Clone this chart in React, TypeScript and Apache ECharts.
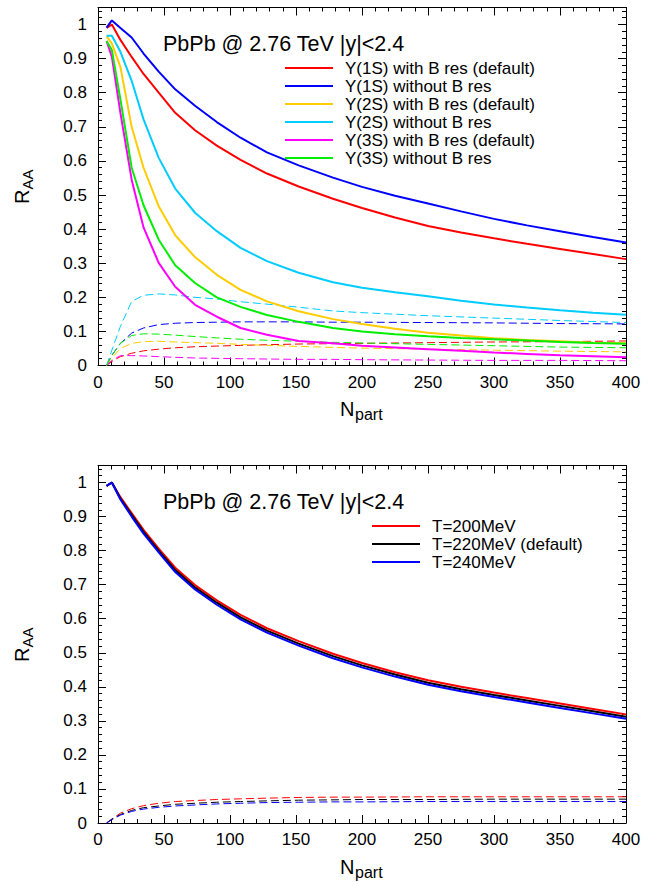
import React, { useEffect, useRef } from "react";
import * as echarts from "echarts";

const FONT = '"Liberation Sans", Arial, Helvetica, sans-serif';

// Npart sampling points of the curves
const N_SOLID = [6.5, 10.5, 17, 25.5, 34.5, 46, 58.5, 73.5, 90, 108, 128, 152, 178, 200, 225, 250, 275, 300, 325, 350, 375, 400];
const N_DASH = [6.5, 10.5, 17, 25.5, 34.5, 46, 58.5, 73.5, 90, 108, 128, 152, 178, 200, 250, 300, 350, 400];

const TITLE = "PbPb @ 2.76 TeV |y|<2.4";

// ---- top panel: solid curves ----
const Y1S_WITH_B = [0.99, 1.0, 0.955, 0.905, 0.855, 0.8, 0.741, 0.69, 0.645, 0.603, 0.563, 0.525, 0.489, 0.462, 0.434, 0.409, 0.39, 0.373, 0.357, 0.342, 0.327, 0.312];
const Y1S_NO_B = [0.991, 1.012, 0.99, 0.962, 0.915, 0.862, 0.81, 0.762, 0.714, 0.668, 0.625, 0.587, 0.551, 0.524, 0.498, 0.475, 0.452, 0.43, 0.411, 0.394, 0.377, 0.361];
const Y2S_WITH_B = [0.965, 0.945, 0.875, 0.7, 0.58, 0.467, 0.382, 0.318, 0.266, 0.222, 0.188, 0.159, 0.136, 0.122, 0.108, 0.096, 0.088, 0.08, 0.075, 0.071, 0.067, 0.065];
const Y2S_NO_B = [0.967, 0.967, 0.92, 0.835, 0.722, 0.609, 0.519, 0.448, 0.394, 0.345, 0.306, 0.272, 0.244, 0.228, 0.215, 0.203, 0.19, 0.179, 0.17, 0.162, 0.155, 0.149];
const Y3S_WITH_B = [0.952, 0.905, 0.74, 0.545, 0.405, 0.301, 0.231, 0.178, 0.143, 0.11, 0.09, 0.072, 0.065, 0.058, 0.053, 0.048, 0.043, 0.038, 0.034, 0.03, 0.027, 0.024];
const Y3S_NO_B = [0.952, 0.925, 0.78, 0.58, 0.47, 0.369, 0.294, 0.242, 0.2, 0.172, 0.148, 0.128, 0.11, 0.1, 0.092, 0.086, 0.081, 0.077, 0.073, 0.069, 0.066, 0.064];

// ---- top panel: dashed curves ----
const D1S_WITH_B = [0, 0.012, 0.026, 0.036, 0.043, 0.048, 0.052, 0.055, 0.057, 0.059, 0.061, 0.063, 0.064, 0.065, 0.067, 0.069, 0.07, 0.072];
const D1S_NO_B = [0, 0.03, 0.065, 0.095, 0.11, 0.12, 0.124, 0.126, 0.127, 0.128, 0.128, 0.128, 0.127, 0.127, 0.126, 0.125, 0.123, 0.122];
const D2S_WITH_B = [0, 0.022, 0.05, 0.065, 0.07, 0.071, 0.069, 0.067, 0.065, 0.062, 0.059, 0.056, 0.053, 0.051, 0.048, 0.045, 0.042, 0.04];
const D2S_NO_B = [0, 0.045, 0.115, 0.188, 0.206, 0.21, 0.207, 0.2, 0.195, 0.187, 0.18, 0.171, 0.16, 0.155, 0.146, 0.139, 0.132, 0.126];
const D3S_WITH_B = [0, 0.015, 0.029, 0.029, 0.028, 0.026, 0.024, 0.022, 0.021, 0.02, 0.019, 0.018, 0.018, 0.017, 0.016, 0.015, 0.015, 0.014];
const D3S_NO_B = [0, 0.03, 0.065, 0.088, 0.093, 0.092, 0.089, 0.085, 0.081, 0.077, 0.074, 0.071, 0.068, 0.066, 0.062, 0.058, 0.054, 0.052];

// ---- bottom panel ----
const T200 = [0.99, 1.0, 0.957, 0.91, 0.861, 0.806, 0.75, 0.699, 0.654, 0.611, 0.572, 0.534, 0.497, 0.47, 0.443, 0.419, 0.4, 0.383, 0.367, 0.351, 0.335, 0.319];
const T220 = [0.99, 1.0, 0.953, 0.905, 0.855, 0.8, 0.743, 0.692, 0.647, 0.604, 0.565, 0.527, 0.49, 0.463, 0.436, 0.412, 0.393, 0.376, 0.36, 0.344, 0.328, 0.312];
const T240 = [0.99, 1.0, 0.95, 0.9, 0.85, 0.795, 0.737, 0.686, 0.641, 0.598, 0.559, 0.521, 0.484, 0.457, 0.43, 0.406, 0.387, 0.37, 0.354, 0.338, 0.322, 0.306];
const DT200 = [0, 0.012, 0.029, 0.042, 0.051, 0.058, 0.063, 0.066, 0.069, 0.071, 0.073, 0.075, 0.076, 0.076, 0.077, 0.077, 0.077, 0.077];
const DT220 = [0, 0.011, 0.025, 0.037, 0.045, 0.05, 0.055, 0.058, 0.061, 0.063, 0.065, 0.067, 0.068, 0.069, 0.069, 0.07, 0.07, 0.07];
const DT240 = [0, 0.01, 0.023, 0.034, 0.041, 0.046, 0.05, 0.053, 0.056, 0.058, 0.06, 0.061, 0.062, 0.062, 0.063, 0.063, 0.063, 0.063];

const TOP_SERIES = [
  { name: "Y(1S) with B res (default)", color: "#ff0000", solid: Y1S_WITH_B, dash: D1S_WITH_B },
  { name: "Y(1S) without B res", color: "#0000ff", solid: Y1S_NO_B, dash: D1S_NO_B },
  { name: "Y(2S) with B res (default)", color: "#ffcc00", solid: Y2S_WITH_B, dash: D2S_WITH_B },
  { name: "Y(2S) without B res", color: "#00ccff", solid: Y2S_NO_B, dash: D2S_NO_B },
  { name: "Y(3S) with B res (default)", color: "#ff00ff", solid: Y3S_WITH_B, dash: D3S_WITH_B },
  { name: "Y(3S) without B res", color: "#00ee00", solid: Y3S_NO_B, dash: D3S_NO_B },
];
const BOTTOM_SERIES = [
  { name: "T=200MeV", color: "#ff0000", solid: T200, dash: DT200 },
  { name: "T=220MeV (default)", color: "#000000", solid: T220, dash: DT220 },
  { name: "T=240MeV", color: "#0000ff", solid: T240, dash: DT240 },
];

const zip = (xs: number[], ys: number[]) => xs.map((x, i) => [x, ys[i]]);

type Rect = { left: number; top: number; width: number; height: number };
const GRID_TOP: Rect = { left: 98, top: 7.5, width: 528, height: 358 };
const GRID_BOT: Rect = { left: 98, top: 465.5, width: 528, height: 357.5 };
const DY = GRID_BOT.top - GRID_TOP.top;

const BLACK_LINE = { color: "#000", width: 1 };
const X_MIN = 0, X_MAX = 400, X_MAJOR = 50, X_MINOR = 10;
const Y_MIN = 0, Y_MAX = 1.05, Y_MAJOR = 0.1, Y_MINOR = 0.02;
const LABEL = { fontSize: 17, fontFamily: FONT, color: "#000" };
const MAJOR_LEN = 8, MINOR_LEN = 4;

// Builds one panel: the main grid (labelled axes + frame) and thin strips along the four
// frame edges whose axis split lines form the inward major / minor ticks.
function buildPanel(g: Rect, gridOffset: number) {
  const grids: any[] = [{ ...g }];
  const xAxes: any[] = [];
  const yAxes: any[] = [];
  const off = { axisLine: { show: false }, axisTick: { show: false }, axisLabel: { show: false } };
  xAxes.push({
    gridIndex: gridOffset, type: "value", min: X_MIN, max: X_MAX, interval: X_MAJOR, position: "bottom",
    axisLine: { show: true, onZero: false, lineStyle: BLACK_LINE }, axisTick: { show: false },
    splitLine: { show: false }, axisLabel: { ...LABEL, margin: 8 },
  });
  yAxes.push({
    gridIndex: gridOffset, type: "value", min: Y_MIN, max: Y_MAX, interval: Y_MAJOR, position: "left",
    axisLine: { show: true, onZero: false, lineStyle: BLACK_LINE }, axisTick: { show: false },
    splitLine: { show: false }, axisLabel: { ...LABEL, margin: 11, showMaxLabel: false },
  });
  // frame: top and right edges
  xAxes.push({
    gridIndex: gridOffset, type: "value", min: X_MIN, max: X_MAX, interval: X_MAJOR, position: "top",
    axisLine: { show: true, onZero: false, lineStyle: BLACK_LINE }, axisTick: { show: false },
    splitLine: { show: false }, axisLabel: { show: false },
  });
  yAxes.push({
    gridIndex: gridOffset, type: "value", min: Y_MIN, max: Y_MAX, interval: Y_MAJOR, position: "right",
    axisLine: { show: true, onZero: false, lineStyle: BLACK_LINE }, axisTick: { show: false },
    splitLine: { show: false }, axisLabel: { show: false },
  });
  const strips: { rect: Rect; dim: "x" | "y"; minor: boolean }[] = [];
  for (const minor of [false, true]) {
    const len = minor ? MINOR_LEN : MAJOR_LEN;
    strips.push({ rect: { left: g.left, width: g.width, top: g.top + g.height - len, height: len }, dim: "x", minor });
    strips.push({ rect: { left: g.left, width: g.width, top: g.top, height: len }, dim: "x", minor });
    strips.push({ rect: { left: g.left, width: len, top: g.top, height: g.height }, dim: "y", minor });
    strips.push({ rect: { left: g.left + g.width - len, width: len, top: g.top, height: g.height }, dim: "y", minor });
  }
  strips.forEach((s, k) => {
    const gi = gridOffset + 1 + k;
    grids.push(s.rect);
    const split = { show: true, lineStyle: BLACK_LINE };
    if (s.dim === "x") {
      xAxes.push({ gridIndex: gi, type: "value", min: X_MIN, max: X_MAX, interval: s.minor ? X_MINOR : X_MAJOR, ...off, splitLine: split });
      yAxes.push({ gridIndex: gi, type: "value", show: false, min: 0, max: 1, splitLine: { show: false } });
    } else {
      xAxes.push({ gridIndex: gi, type: "value", show: false, min: 0, max: 1, splitLine: { show: false } });
      yAxes.push({ gridIndex: gi, type: "value", min: Y_MIN, max: Y_MAX, interval: s.minor ? Y_MINOR : Y_MAJOR, ...off, splitLine: split });
    }
  });
  return { grids, xAxes, yAxes };
}

function axisNames(dy: number) {
  return [
    {
      type: "group",
      x: 22,
      y: 186.5 + dy,
      rotation: Math.PI / 2,
      children: [
        { type: "text", x: -17.5, y: 0, style: { text: "R", fontSize: 20, fontFamily: FONT, fill: "#000", textAlign: "left", textVerticalAlign: "middle" } },
        { type: "text", x: -3, y: 5.5, style: { text: "AA", fontSize: 15, fontFamily: FONT, fill: "#000", textAlign: "left", textVerticalAlign: "middle" } },
      ],
    },
    { type: "text", x: 340, y: 409 + dy, style: { text: "N", fontSize: 20, fontFamily: FONT, fill: "#000", textAlign: "left", textVerticalAlign: "middle" } },
    { type: "text", x: 355, y: 414.5 + dy, style: { text: "part", fontSize: 16, fontFamily: FONT, fill: "#000", textAlign: "left", textVerticalAlign: "middle" } },
    { type: "text", x: 163, y: 44 + dy, style: { text: TITLE, fontSize: 21.5, fontFamily: FONT, fill: "#000", textAlign: "left", textVerticalAlign: "middle" } },
  ];
}

export default function App() {
  const ref = useRef<HTMLDivElement>(null);
  useEffect(() => {
    if (!ref.current) return;
    const chart = echarts.init(ref.current, undefined, { renderer: "svg" });
    const pA = buildPanel(GRID_TOP, 0);
    const pB = buildPanel(GRID_BOT, pA.grids.length);
    const botX = pA.xAxes.length, botY = pA.yAxes.length;
    const series: any[] = [];
    const addSet = (set: typeof TOP_SERIES, xi: number, yi: number) => {
      set.forEach((s) => {
        series.push({
          name: s.name + " (Bdecay)",
          type: "line",
          xAxisIndex: xi,
          yAxisIndex: yi,
          data: zip(N_DASH, s.dash),
          symbol: "none",
          lineStyle: { color: s.color, width: 1, type: [8, 4] },
          itemStyle: { color: s.color },
          z: 2,
        });
      });
      set.forEach((s) => {
        series.push({
          name: s.name,
          type: "line",
          xAxisIndex: xi,
          yAxisIndex: yi,
          data: zip(N_SOLID, s.solid),
          symbol: "none",
          lineStyle: { color: s.color, width: 2 },
          itemStyle: { color: s.color },
          z: 3,
        });
      });
    };
    addSet(TOP_SERIES, 0, 0);
    addSet(BOTTOM_SERIES, botX, botY);

    const legendText = { fontSize: 17, fontFamily: FONT, color: "#000", lineHeight: 18, padding: [0, 0, 0, 7] };
    const legendBase = {
      orient: "vertical",
      padding: 0,
      icon: "rect",
      itemWidth: 48,
      itemHeight: 2,
      itemGap: 0,
      selectedMode: false,
      textStyle: legendText,
    };
    chart.setOption({
      animation: false,
      grid: [...pA.grids, ...pB.grids],
      xAxis: [...pA.xAxes, ...pB.xAxes],
      yAxis: [...pA.yAxes, ...pB.yAxes],
      legend: [
        { ...legendBase, data: TOP_SERIES.map((s) => s.name), left: 285, top: 59 },
        { ...legendBase, data: BOTTOM_SERIES.map((s) => s.name), left: 372, top: 517 },
      ],
      graphic: [...axisNames(0), ...axisNames(DY)],
      series,
    });
    return () => chart.dispose();
  }, []);
  return <div ref={ref} style={{ position: "absolute", left: 0, top: 0, width: 657, height: 882, background: "#fff" }} />;
}
